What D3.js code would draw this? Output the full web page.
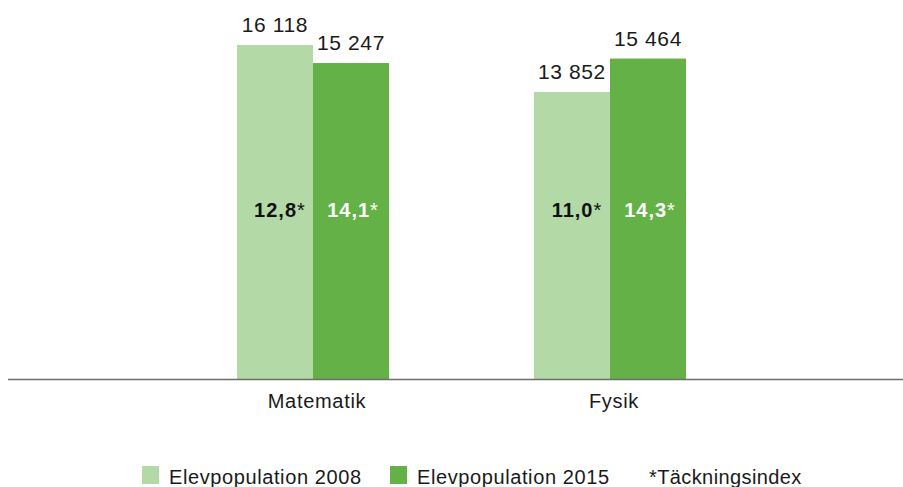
<!DOCTYPE html>
<html lang="sv">
<head>
<meta charset="UTF-8">
<title>Elevpopulation</title>
<script src="https://d3js.org/d3.v7.min.js"></script>
<style>
  body { margin: 0; background: #fff; }
  text { font-family: "Liberation Sans", Arial, sans-serif; fill: #1a1a1a; }
</style>
</head>
<body>
<svg width="903" height="487"></svg>
<script>
  // Data
  const subjects = ["Matematik", "Fysik"];
  const seriesNames = ["Elevpopulation 2008", "Elevpopulation 2015"];
  const pop2008 = [16118, 13852];
  const pop2015 = [15247, 15464];
  const index2008 = ["12,8", "11,0"];
  const index2015 = ["14,1", "14,3"];
  const footnote = "*Täckningsindex";

  const colors = ["#b3d9a6", "#64b148"];
  const fmt = v => d3.format(",")(v).replace(/,/g, " ");

  const svg = d3.select("svg");
  const baseY = 379;

  const x = d3.scaleBand()
    .domain(subjects)
    .range([164.5, 758.5])
    .paddingInner(0.488)
    .paddingOuter(0.244);

  const xs = d3.scaleBand()
    .domain([0, 1])
    .range([0, x.bandwidth()]);

  const y = d3.scaleLinear()
    .domain([0, 18000])
    .range([baseY, baseY - 373]);

  const rows = subjects.map((s, i) => ({
    subject: s,
    vals: [
      { k: 0, v: pop2008[i], idx: index2008[i] },
      { k: 1, v: pop2015[i], idx: index2015[i] }
    ]
  }));

  const groups = svg.selectAll(".grp")
    .data(rows)
    .enter().append("g")
    .attr("class", "grp")
    .attr("transform", d => `translate(${x(d.subject)},0)`);

  groups.selectAll("rect")
    .data(d => d.vals)
    .enter().append("rect")
    .attr("x", d => xs(d.k))
    .attr("y", d => y(d.v))
    .attr("width", xs.bandwidth())
    .attr("height", d => baseY - y(d.v))
    .attr("fill", d => colors[d.k]);

  // value labels above bars
  groups.selectAll(".val")
    .data(d => d.vals)
    .enter().append("text")
    .attr("class", "val")
    .attr("x", d => xs(d.k) + xs.bandwidth() / 2)
    .attr("y", d => y(d.v) - 13)
    .attr("text-anchor", "middle")
    .style("font-size", "21px")
    .style("letter-spacing", "0.6px")
    .text(d => fmt(d.v));

  // index labels inside bars
  const idx = groups.selectAll(".idx")
    .data(d => d.vals)
    .enter().append("text")
    .attr("class", "idx")
    .attr("x", d => xs(d.k) + xs.bandwidth() / 2 + (d.k === 0 ? 5 : 2))
    .attr("y", 217)
    .attr("text-anchor", "middle")
    .style("font-size", "20px")
    .style("letter-spacing", "1px")
    .style("fill", d => d.k === 0 ? "#111" : "#fff");
  idx.append("tspan").style("font-weight", "bold").style("fill", "inherit").text(d => d.idx);
  idx.append("tspan").style("fill", "inherit").text("*");

  // baseline
  svg.append("line")
    .attr("x1", 8).attr("x2", 903)
    .attr("y1", baseY + 0.5).attr("y2", baseY + 0.5)
    .attr("stroke", "#6e6e6e")
    .attr("stroke-width", 1.5);

  // category labels
  svg.selectAll(".cat")
    .data(subjects)
    .enter().append("text")
    .attr("class", "cat")
    .attr("x", d => x(d) + x.bandwidth() / 2 + 4)
    .attr("y", 408)
    .attr("text-anchor", "middle")
    .style("font-size", "20px")
    .style("letter-spacing", "0.7px")
    .text(d => d);

  // legend
  const legX = [142, 390];
  const leg = svg.selectAll(".leg")
    .data(seriesNames)
    .enter().append("g")
    .attr("class", "leg")
    .attr("transform", (d, i) => `translate(${legX[i]},466)`);
  leg.append("rect")
    .attr("width", 17).attr("height", 18)
    .attr("fill", (d, i) => colors[i]);
  leg.append("text")
    .attr("x", 27).attr("y", 18)
    .style("font-size", "20px")
    .style("letter-spacing", "0.6px")
    .text(d => d);

  svg.append("text")
    .attr("x", 649).attr("y", 484)
    .style("font-size", "20px")
    .style("letter-spacing", "0.4px")
    .text(footnote);
</script>
</body>
</html>
